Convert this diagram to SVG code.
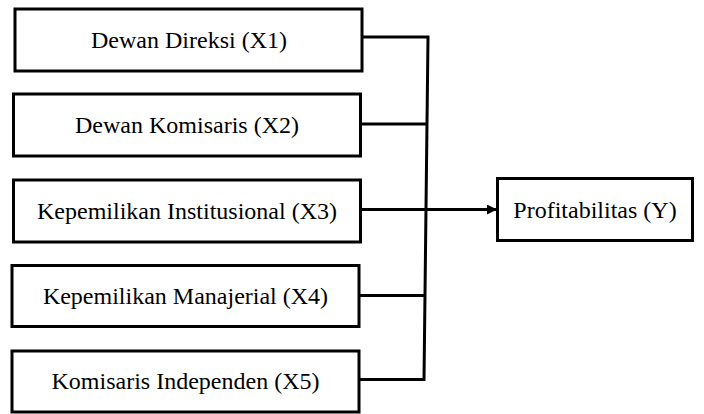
<svg xmlns="http://www.w3.org/2000/svg" width="704" height="414" viewBox="0 0 704 414">
<style>
.box{fill:#fff;stroke:#000;stroke-width:3}
.lbl{font-family:'Liberation Serif','Times New Roman',serif;font-size:24px;fill:#000;text-anchor:middle}
.ln{fill:none;stroke:#000;stroke-width:3}
</style>
<defs>
<marker id="arr" markerWidth="10" markerHeight="10" refX="9" refY="5" orient="auto" markerUnits="userSpaceOnUse">
<path d="M0,0 L10,5 L0,10 Z" fill="#000"/>
</marker>
</defs>
<rect width="704" height="414" fill="#fff"/>
<g id="x1"><rect class="box" x="15" y="9" width="347" height="62"/><text class="lbl" x="189" y="48">Dewan Direksi (X1)</text></g>
<g id="x2"><rect class="box" x="13.5" y="94" width="347" height="62"/><text class="lbl" x="187" y="133">Dewan Komisaris (X2)</text></g>
<g id="x3"><rect class="box" x="13.5" y="180" width="347" height="62"/><text class="lbl" x="187" y="219">Kepemilikan Institusional (X3)</text></g>
<g id="x4"><rect class="box" x="12" y="265.5" width="347" height="61"/><text class="lbl" x="185.5" y="304">Kepemilikan Manajerial (X4)</text></g>
<g id="x5"><rect class="box" x="12" y="351" width="347" height="61"/><text class="lbl" x="185.5" y="389">Komisaris Independen (X5)</text></g>
<g id="y"><rect class="box" x="497.5" y="178.5" width="195" height="62"/><text class="lbl" x="595" y="218">Profitabilitas (Y)</text></g>
<g id="connectors">
<polyline class="ln" points="362,37 428,37 424,379.5 359,379.5"/>
<line class="ln" x1="360" y1="124" x2="426.5" y2="124"/>
<line class="ln" x1="359" y1="295.5" x2="425" y2="295.5"/>
<line class="ln" x1="360" y1="209.5" x2="496" y2="209.5" marker-end="url(#arr)"/>
</g>
</svg>
